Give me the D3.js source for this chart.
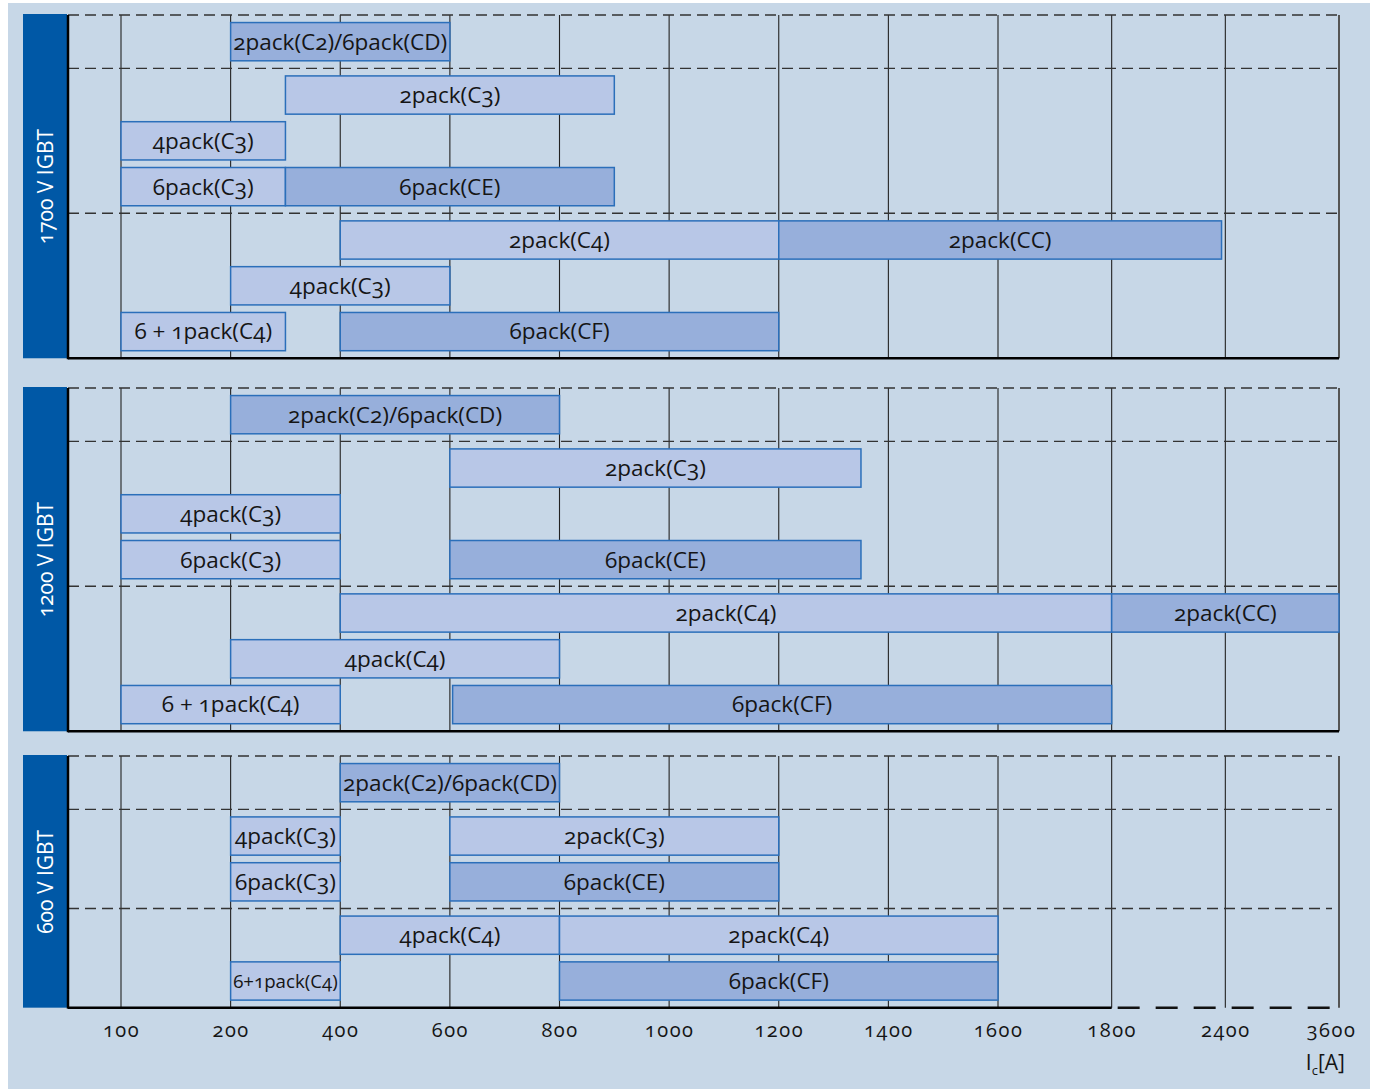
<!DOCTYPE html>
<html><head><meta charset="utf-8">
<script src="https://cdn.jsdelivr.net/npm/d3@7"></script>
<style>
body{margin:0;background:#fff;}
svg text{font-family:"Open Sans",sans-serif;font-variant-numeric:oldstyle-nums;font-feature-settings:"onum" 1;}
</style></head><body>
<svg id="chart" width="1377" height="1089"></svg>
<script>
// ---------- data ----------
const tickValues = [100, 200, 400, 600, 800, 1000, 1200, 1400, 1600, 1800, 2400, 3600];
const panelNames = ["1700 V IGBT", "1200 V IGBT", "600 V IGBT"];
const panelGroups = [[1, 3, 3], [1, 3, 3], [1, 2, 2]]; // rows per dashed group
const darkHousings = ["CD", "CE", "CC", "CF"];

const bars1700 = [
  {row: 0, from: 200, to: 600,  label: "2pack(C2)/6pack(CD)"},
  {row: 1, from: 300, to: 900,  label: "2pack(C3)"},
  {row: 2, from: 100, to: 300,  label: "4pack(C3)"},
  {row: 3, from: 100, to: 300,  label: "6pack(C3)"},
  {row: 3, from: 300, to: 900,  label: "6pack(CE)"},
  {row: 4, from: 400, to: 1200, label: "2pack(C4)"},
  {row: 4, from: 1200, to: 2380, label: "2pack(CC)"},
  {row: 5, from: 200, to: 600,  label: "4pack(C3)"},
  {row: 6, from: 100, to: 300,  label: "6 + 1pack(C4)"},
  {row: 6, from: 400, to: 1200, label: "6pack(CF)"}
];
const bars1200 = [
  {row: 0, from: 200, to: 800,  label: "2pack(C2)/6pack(CD)"},
  {row: 1, from: 600, to: 1350, label: "2pack(C3)"},
  {row: 2, from: 100, to: 400,  label: "4pack(C3)"},
  {row: 3, from: 100, to: 400,  label: "6pack(C3)"},
  {row: 3, from: 600, to: 1350, label: "6pack(CE)"},
  {row: 4, from: 400, to: 1800, label: "2pack(C4)"},
  {row: 4, from: 1800, to: 3600, label: "2pack(CC)"},
  {row: 5, from: 200, to: 800,  label: "4pack(C4)"},
  {row: 6, from: 100, to: 400,  label: "6 + 1pack(C4)"},
  {row: 6, from: 605, to: 1800, label: "6pack(CF)"}
];
const bars600 = [
  {row: 0, from: 400, to: 800,  label: "2pack(C2)/6pack(CD)"},
  {row: 1, from: 200, to: 400,  label: "4pack(C3)"},
  {row: 1, from: 600, to: 1200, label: "2pack(C3)"},
  {row: 2, from: 200, to: 400,  label: "6pack(C3)"},
  {row: 2, from: 600, to: 1200, label: "6pack(CE)"},
  {row: 3, from: 400, to: 800,  label: "4pack(C4)"},
  {row: 3, from: 800, to: 1600, label: "2pack(C4)"},
  {row: 4, from: 200, to: 400,  label: "6+1pack(C4)"},
  {row: 4, from: 800, to: 1600, label: "6pack(CF)"}
];
const panelBars = [bars1700, bars1200, bars600];
const unitLabel = ["I", "c", "[A]"];

// ---------- layout ----------
const svg = d3.select("#chart");
const plotLeft = 68, plotRight = 1339;
const panelTops = [15, 388, 756];
const rowStep = 45.8, pad = 0.165;
const colors = {bg: "#c7d7e7", label: "#0058a6", light: "#b8c7e7", dark: "#97afdb", stroke: "#2b6fba"};

svg.append("rect").attr("x", 8).attr("y", 3).attr("width", 1362).attr("height", 1086).attr("fill", colors.bg);

// non-uniform categorical axis: index positions, value scale piecewise linear between ticks
const idx = d3.scaleLinear().domain([0, 8, 11]).range([121, 998, 1339]);
const x = d3.scaleLinear().domain(tickValues).range(tickValues.map((d, i) => idx(i)));

function housing(label) {
  const m = label.match(/\(([^)]*)\)[^(]*$/);
  return m ? m[1] : "";
}

let lastBottom = 0;
panelNames.forEach((name, p) => {
  const groups = panelGroups[p];
  const top = panelTops[p];
  const g = svg.append("g");
  const bounds = [];
  let y0 = top, rowStart = 0;
  groups.forEach(n => {
    const h = rowStep * (n + pad);
    bounds.push({y0: y0, y1: y0 + h, rows: d3.range(rowStart, rowStart + n)});
    y0 += h; rowStart += n;
  });
  const bottom = y0;
  lastBottom = bottom;
  const rowY = {}, bandH = {};
  bounds.forEach(b => {
    const band = d3.scaleBand().domain(b.rows).range([b.y0, b.y1]).paddingInner(pad).paddingOuter(pad);
    b.rows.forEach(r => { rowY[r] = band(r); bandH[r] = band.bandwidth(); });
  });

  // label box
  g.append("rect").attr("x", 23).attr("y", top - 1).attr("width", 44).attr("height", bottom - top + 1)
    .attr("fill", colors.label);
  g.append("text").attr("transform", `translate(45,${(top + bottom) / 2}) rotate(-90)`)
    .attr("text-anchor", "middle").attr("dy", "0.36em")
    .attr("fill", "#fff").attr("font-size", 21).text(name);

  // vertical grid lines
  g.selectAll("line.v").data(tickValues).enter().append("line")
    .attr("x1", d => x(d)).attr("x2", d => x(d)).attr("y1", top).attr("y2", bottom)
    .attr("stroke", (d, i) => i === tickValues.length - 1 ? "#555" : "#222")
    .attr("stroke-width", (d, i) => i === tickValues.length - 1 ? 2 : 1.1);

  // dashed group lines
  g.selectAll("line.h").data(bounds).enter().append("line")
    .attr("x1", plotLeft).attr("x2", p === 2 ? plotRight - 7 : plotRight)
    .attr("y1", d => d.y0).attr("y2", d => d.y0)
    .attr("stroke", "#333").attr("stroke-width", 1.4).attr("stroke-dasharray", "11,6");

  // bars
  const bars = panelBars[p];
  g.selectAll("rect.bar").data(bars).enter().append("rect")
    .attr("x", d => x(d.from)).attr("width", d => x(d.to) - x(d.from))
    .attr("y", d => rowY[d.row]).attr("height", d => bandH[d.row])
    .attr("fill", d => darkHousings.includes(housing(d.label)) ? colors.dark : colors.light)
    .attr("stroke", colors.stroke).attr("stroke-width", 1.5);

  g.selectAll("text.bar").data(bars).enter().append("text")
    .attr("x", d => (x(d.from) + x(d.to)) / 2)
    .attr("y", d => rowY[d.row] + bandH[d.row] / 2)
    .attr("dy", "0.35em").attr("text-anchor", "middle")
    .attr("font-size", 22.5).attr("fill", "#151515").text(d => d.label)
    .each(function(d) {
      const avail = x(d.to) - x(d.from) - 5;
      const len = this.getComputedTextLength();
      if (len > avail) d3.select(this).attr("font-size", 22.5 * avail / len);
    });

  // axes lines
  g.append("line").attr("x1", plotLeft).attr("x2", plotLeft).attr("y1", top).attr("y2", bottom + 1)
    .attr("stroke", "#000").attr("stroke-width", 2.5);
  if (p < 2) {
    g.append("line").attr("x1", plotLeft).attr("x2", plotRight).attr("y1", bottom).attr("y2", bottom)
      .attr("stroke", "#000").attr("stroke-width", 2.5);
  } else {
    g.append("line").attr("x1", plotLeft).attr("x2", x(1800)).attr("y1", bottom).attr("y2", bottom)
      .attr("stroke", "#000").attr("stroke-width", 2.5);
    g.append("line").attr("x1", x(1800)).attr("x2", plotRight).attr("y1", bottom).attr("y2", bottom)
      .attr("stroke", "#111").attr("stroke-width", 2.5).attr("stroke-dasharray", "22,16").attr("stroke-dashoffset", -6);
  }
});

// x axis labels
const axis = svg.append("g").attr("transform", `translate(0,${lastBottom})`)
  .call(d3.axisBottom(x).tickValues(tickValues).tickSize(0).tickPadding(15).tickFormat(d3.format("d")));
axis.select(".domain").remove();
axis.selectAll("text").attr("font-size", 20).attr("letter-spacing", 1.5).attr("fill", "#151515")
  .style("font-family", '"Open Sans", sans-serif')
  .attr("dx", (d, i) => i === tickValues.length - 1 ? -8 : 0);

const unit = svg.append("text").attr("x", 1345).attr("y", 1070).attr("text-anchor", "end")
  .attr("font-size", 21).attr("fill", "#151515");
unit.append("tspan").text(unitLabel[0]);
unit.append("tspan").attr("font-size", 13).attr("dy", 5).text(unitLabel[1]);
unit.append("tspan").attr("dy", -5).text(unitLabel[2]);
</script>
</body></html>
